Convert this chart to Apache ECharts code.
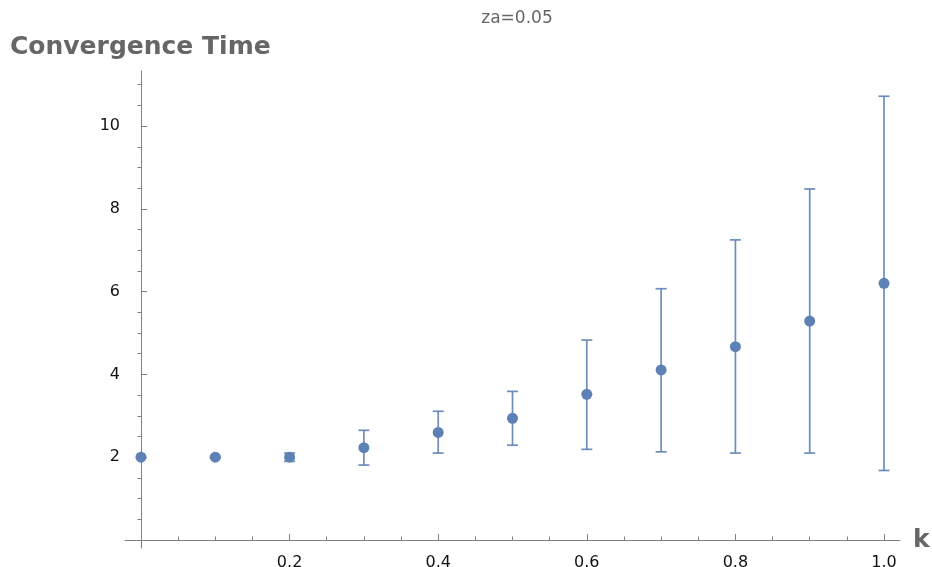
<!DOCTYPE html>
<html>
<head>
<meta charset="utf-8">
<script src="https://cdn.jsdelivr.net/npm/echarts@6/dist/echarts.min.js"></script>
<style>
  html, body { margin: 0; padding: 0; background: #fff; }
  #chart { width: 932px; height: 567px; }
</style>
</head>
<body>
<div id="chart"></div>
<script>
// Convergence time vs k (za = 0.05): mean with lower/upper spread
const kValues = [0, 0.1, 0.2, 0.3, 0.4, 0.5, 0.6, 0.7, 0.8, 0.9, 1.0];
const meanTime = [2.0, 2.0, 2.0, 2.23, 2.60, 2.94, 3.52, 4.11, 4.67, 5.29, 6.20];
const lowTime  = [2.0, 1.98, 1.90, 1.81, 2.10, 2.29, 2.19, 2.13, 2.10, 2.10, 1.68];
const highTime = [2.0, 2.02, 2.10, 2.65, 3.11, 3.59, 4.83, 6.07, 7.25, 8.48, 10.72];

const xMajorTicks = [0, 0.2, 0.4, 0.6, 0.8, 1.0];
const xMinorTicks = [0.05, 0.1, 0.15, 0.25, 0.3, 0.35, 0.45, 0.5, 0.55, 0.65, 0.7, 0.75, 0.85, 0.9, 0.95];
const yMajorTicks = [2, 4, 6, 8, 10];
const yMinorTicks = [0.5, 1, 1.5, 2.5, 3, 3.5, 4.5, 5, 5.5, 6.5, 7, 7.5, 8.5, 9, 9.5, 10.5, 11];

const X_MIN = -0.0215, X_MAX = 1.0215;
const Y_MIN = -0.193, Y_MAX = 11.33;

const FONT = '"DejaVu Sans", sans-serif';
const color = '#5E81B5';
const axisColor = '#808080';
const labelFont = { fontFamily: FONT, fontSize: 16, color: '#111' };

const chart = echarts.init(document.getElementById('chart'), null, { renderer: 'canvas' });

const points = kValues.map((k, i) => [k, meanTime[i]]);
const bars = kValues.map((k, i) => [k, lowTime[i], highTime[i]]);

function xAxisDef(ticks, len, showLine, showLabel, extra) {
  return Object.assign({
    type: 'value', min: X_MIN, max: X_MAX,
    axisLine: { show: showLine, onZero: true, lineStyle: { color: axisColor, width: 1 } },
    axisTick: { show: true, inside: true, length: len, customValues: ticks, lineStyle: { color: axisColor } },
    axisLabel: { show: showLabel, customValues: ticks, formatter: v => v.toFixed(1), margin: 7, ...labelFont },
    splitLine: { show: false }
  }, extra || {});
}
function yAxisDef(ticks, len, showLine, showLabel) {
  return {
    type: 'value', min: Y_MIN, max: Y_MAX,
    axisLine: { show: showLine, onZero: true, lineStyle: { color: axisColor, width: 1 } },
    axisTick: { show: true, inside: true, length: len, customValues: ticks, lineStyle: { color: axisColor } },
    axisLabel: { show: showLabel, customValues: ticks, formatter: v => String(v), margin: 5, ...labelFont },
    splitLine: { show: false }
  };
}

chart.setOption({
  animation: false,
  backgroundColor: '#fff',
  title: [
    { text: 'Convergence Time', left: 5, top: 30,
      textStyle: { fontFamily: FONT, fontWeight: 'bold', fontSize: 25, color: '#666' } },
    { text: 'za=0.05', left: 512, top: 5, textAlign: 'center',
      textStyle: { fontFamily: FONT, fontWeight: 'normal', fontSize: 17, color: '#666' } }
  ],
  grid: { left: 125, right: 32, top: 71, bottom: 19, containLabel: false, outerBoundsMode: 'none' },
  xAxis: [
    xAxisDef(xMajorTicks.filter(v => v > 0), 6, true, true, {
      name: 'k', nameLocation: 'end', nameGap: 13,
      nameTextStyle: { fontFamily: FONT, fontWeight: 'bold', fontSize: 25, color: '#666',
        verticalAlign: 'middle', padding: [2, 0, 0, 0] }
    }),
    xAxisDef(xMinorTicks, 3.5, false, false, { position: 'bottom' })
  ],
  yAxis: [
    yAxisDef(yMajorTicks, 6, true, true),
    yAxisDef(yMinorTicks, 3.5, false, false)
  ],
  series: [
    {
      type: 'custom',
      xAxisIndex: 0, yAxisIndex: 0,
      data: bars,
      renderItem: function (params, api) {
        const x = api.value(0);
        const lo = api.coord([x, api.value(1)]);
        const hi = api.coord([x, api.value(2)]);
        if (Math.abs(hi[1] - lo[1]) < 1) return null;
        const half = 5.5;
        const style = { stroke: color, lineWidth: 1.7, opacity: 0.9 };
        return {
          type: 'group',
          children: [
            { type: 'line', shape: { x1: lo[0], y1: lo[1], x2: hi[0], y2: hi[1] }, style },
            { type: 'line', shape: { x1: hi[0] - half, y1: hi[1], x2: hi[0] + half, y2: hi[1] }, style },
            { type: 'line', shape: { x1: lo[0] - half, y1: lo[1], x2: lo[0] + half, y2: lo[1] }, style }
          ]
        };
      },
      z: 2
    },
    {
      type: 'scatter',
      xAxisIndex: 0, yAxisIndex: 0,
      data: points,
      symbol: 'circle',
      symbolSize: 11,
      itemStyle: { color: color, opacity: 1 },
      z: 3
    }
  ]
});
</script>
</body>
</html>
